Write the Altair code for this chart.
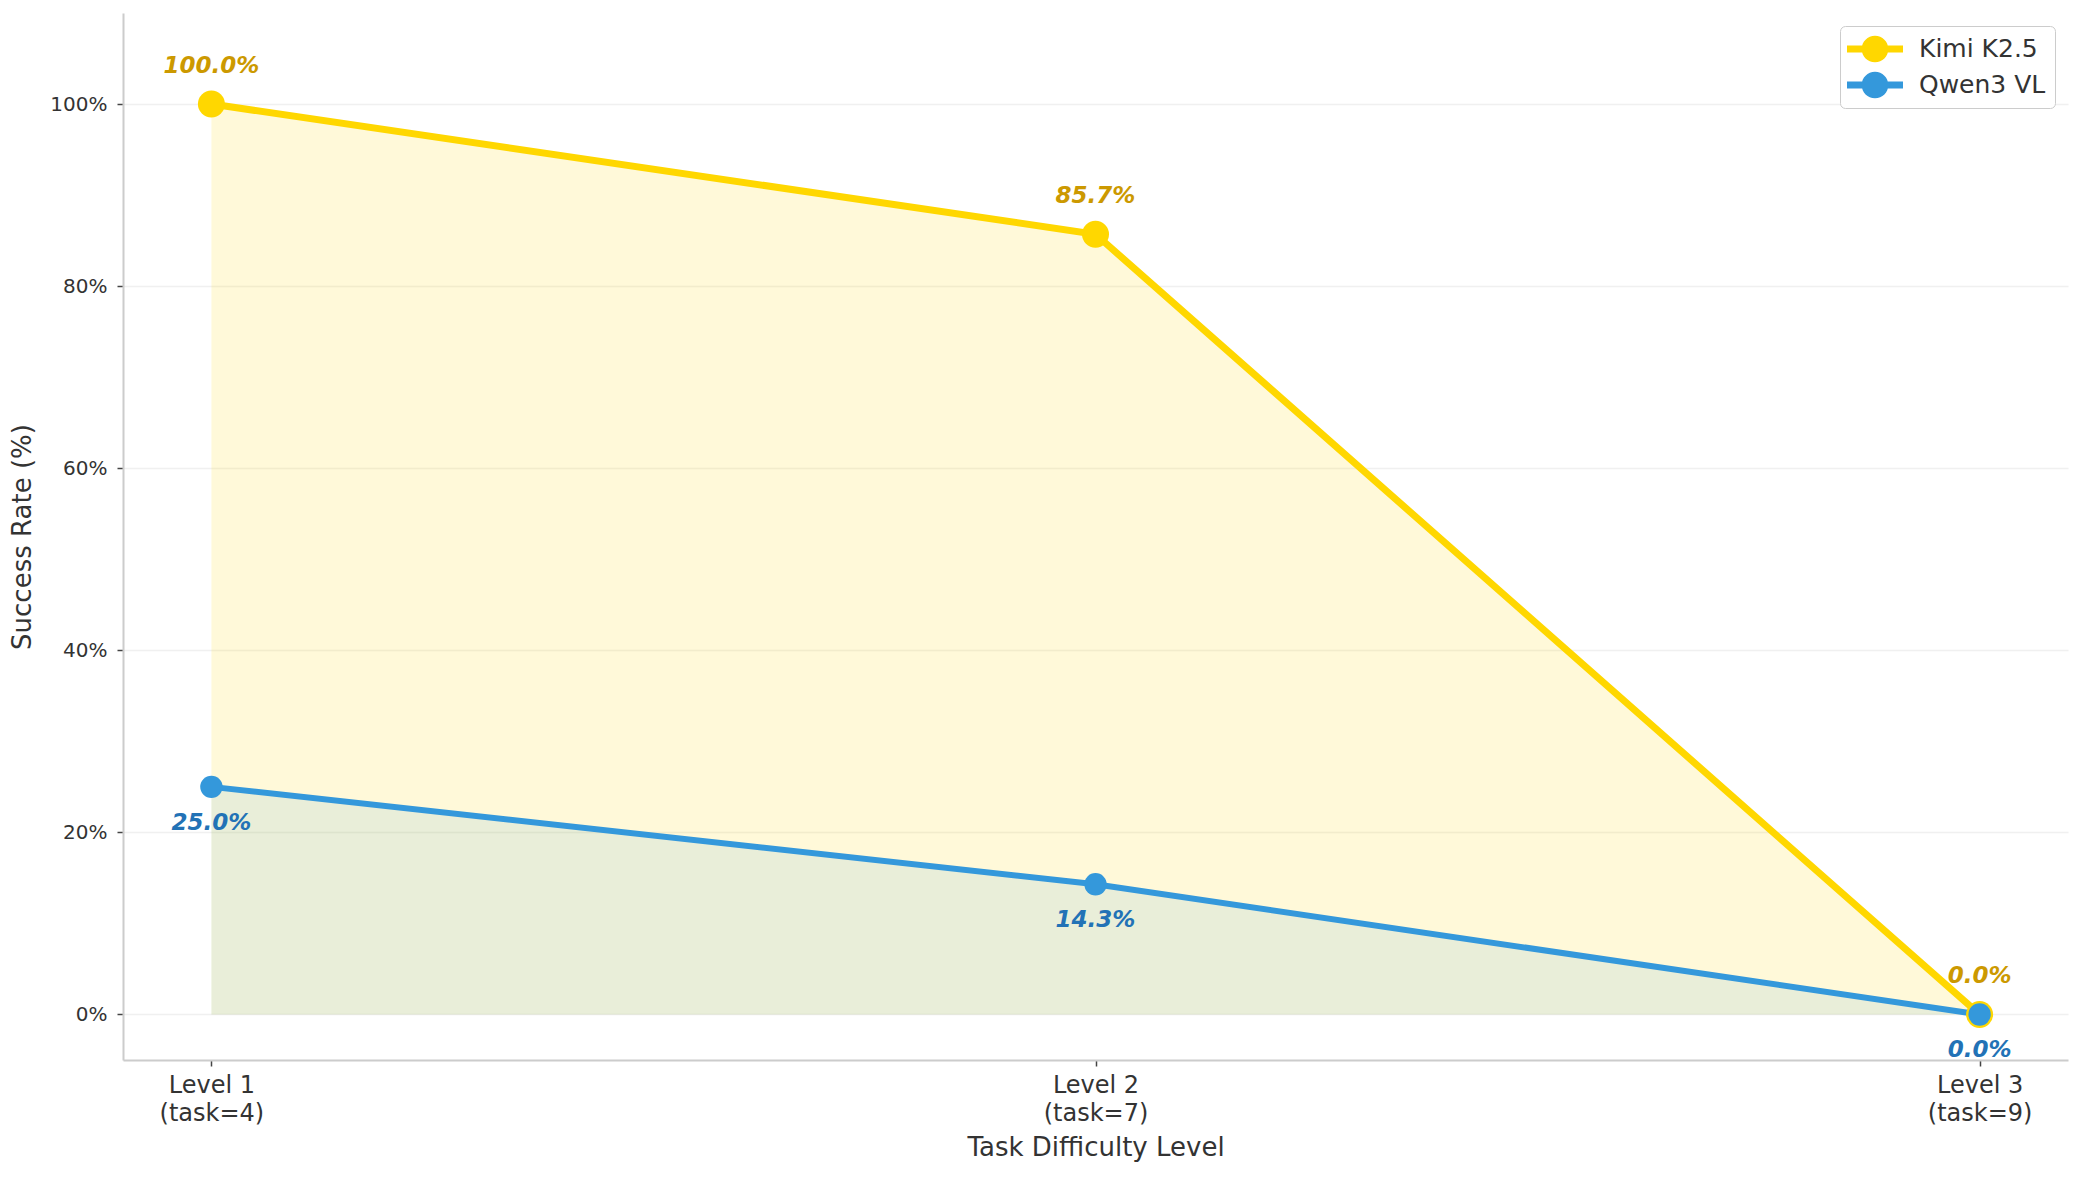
import altair as alt
import pandas as pd

levels = ["Level 1", "Level 2", "Level 3"]
task_counts = [4, 7, 9]
models = ["Kimi K2.5", "Qwen3 VL"]
kimi_rates = [100.0, 85.7, 0.0]
qwen_rates = [25.0, 14.3, 0.0]
y_ticks = [0, 20, 40, 60, 80, 100]

line_colors = ["#FFD700", "#3498DB"]
label_colors = ["#CC9900", "#2272B6"]
fill_opacity = [0.15, 0.11]
line_widths = [7, 6]
marker_sizes = [729, 500]

cats = [f"{l} (task={n})" for l, n in zip(levels, task_counts)]

rows = []
for m, rates, lc, tc, fo, lw, ms in zip(models, [kimi_rates, qwen_rates], line_colors,
                                        label_colors, fill_opacity, line_widths, marker_sizes):
    for c, r in zip(cats, rates):
        rows.append(dict(model=m, level=c, rate=r, label=f"{r:.1f}%", lcolor=lc,
                         tcolor=tc, fop=fo, lw=lw, ms=ms))
df = pd.DataFrame(rows)

FONT = "DejaVu Sans"
color_scale = alt.Scale(domain=models, range=line_colors)

x_enc = alt.X(
    "level:N", sort=cats,
    scale=alt.Scale(type="point", padding=0.1),
    axis=alt.Axis(
        title="Task Difficulty Level", labelAngle=0, grid=False,
        labelExpr="[split(datum.label, ' (')[0], '(' + split(datum.label, ' (')[1]]",
        labelFontSize=24, labelLineHeight=28, labelPadding=7, labelBaseline="top",
        titlePadding=9,
    ),
)
y_enc = alt.Y(
    "rate:Q", stack=None,
    scale=alt.Scale(domain=[-5, 110], nice=False, zero=False),
    axis=alt.Axis(
        title="Success Rate (%)", values=y_ticks, labelExpr="datum.value + '%'",
        grid=True, gridColor="#f0f0f0", gridWidth=1.5, labelFontSize=20,
        labelPadding=10, titlePadding=14,
    ),
)

base = alt.Chart(df)

area = base.mark_area().encode(
    x=x_enc, y=y_enc, y2=alt.datum(0),
    fill=alt.Fill("lcolor:N", scale=None),
    detail="model:N",
    opacity=alt.Opacity("fop:Q", scale=None),
)

line = base.mark_line().encode(
    x=x_enc, y=y_enc,
    stroke=alt.Stroke("lcolor:N", scale=None),
    detail="model:N",
    strokeWidth=alt.StrokeWidth("lw:Q", scale=None),
)

legend_path = ("M-2,-0.25L2,-0.25L2,0.25L-2,0.25Z"
               "M0.95,0A0.95,0.95,0,1,1,-0.95,0A0.95,0.95,0,1,1,0.95,0Z")

points = base.mark_point(filled=True, opacity=1, strokeWidth=0).encode(
    x=x_enc, y=y_enc,
    color=alt.Color(
        "model:N", scale=color_scale,
        legend=alt.Legend(
            title=None, orient="top-right", offset=13,
            symbolType=legend_path, symbolSize=784, symbolStrokeWidth=0,
            symbolOpacity=1, symbolOffset=12,
            labelFontSize=25, labelColor="#333333", labelFont=FONT,
            labelOffset=30, padding=9, rowPadding=8,
            strokeColor="#cccccc", fillColor="white", cornerRadius=5,
        ),
    ),
    size=alt.Size("ms:Q", scale=None),
)

text_kimi = base.transform_filter(alt.datum.model == models[0]).mark_text(
    font=FONT, fontSize=23, fontWeight="bold", fontStyle="italic",
    baseline="middle", dy=-38,
).encode(x=x_enc, y=y_enc, text="label:N",
         color=alt.Color("tcolor:N", scale=None))

text_qwen = base.transform_filter(alt.datum.model == models[1]).mark_text(
    font=FONT, fontSize=23, fontWeight="bold", fontStyle="italic",
    baseline="middle", dy=36,
).encode(x=x_enc, y=y_enc, text="label:N",
         color=alt.Color("tcolor:N", scale=None))

chart = alt.layer(area, line, points, text_kimi, text_qwen).properties(
    width=1945, height=1047,
    autosize=alt.AutoSizeParams(type="none"),
    padding={"left": 115, "top": 5, "right": 8, "bottom": 109},
    background="white",
).configure_view(stroke=None).configure_axis(
    labelFont=FONT, titleFont=FONT, labelColor="#333333", titleColor="#333333",
    titleFontSize=26, titleFontWeight="normal",
    domainColor="#cccccc", domainWidth=2,
    tickColor="#444444", tickSize=6, tickWidth=1.5,
)

chart.save("out.html", embed_options={"renderer": "svg", "actions": False})
